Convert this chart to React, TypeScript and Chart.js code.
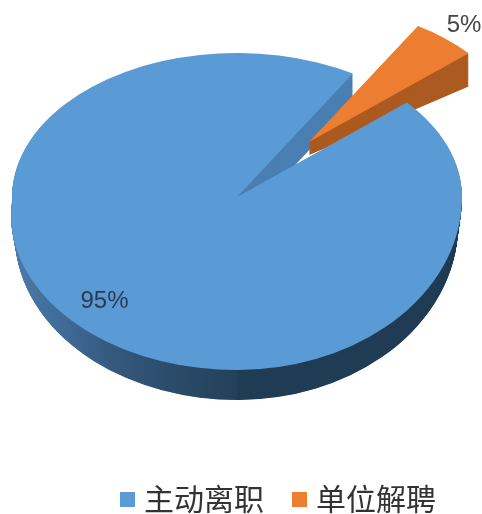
import React, { useEffect, useRef } from "react";
import { Chart, registerables } from "chart.js";

Chart.register(...registerables);

const categories = ["主动离职", "单位解聘"];
const seriesValues = [95, 5];
const sliceColors = ["#5B9BD5", "#ED7D31"];
const valueLabels = ["95%", "5%"];
const labelColors = ["#2C3A4E", "#444444"];

const W = 482;
const H = 514;
const CX = 237;
const CY = 197;
const RX = 225;
const K_UP = 144 / 225;
const EXPLODE = 112;
const ORANGE_RATIO = 0.94;
const labelPos = [
  [104.5, 301],
  [464, 25],
];
const LEGEND_DX = 40;
const LEGEND_DY = 10;
// lower-left and lower-right outline of the top face and of the bottom face: cy, rx, ry
const LEFT_TOP = [215, 226, 155];
const LEFT_BOTTOM = [235, 222, 165];
const RIGHT_TOP = [197, 225, 173];
const RIGHT_BOTTOM = [225, 221, 175];

function makeSwatch(color: string) {
  const c = document.createElement("canvas");
  c.width = 15;
  c.height = 15;
  const x = c.getContext("2d")!;
  x.fillStyle = color;
  x.fillRect(0, 0, 15, 15);
  return c;
}

const pie3d = {
  id: "pie3d",
  afterLayout(chart: any) {
    const l = chart.legend;
    l.left += LEGEND_DX;
    l.right += LEGEND_DX;
    l.top += LEGEND_DY;
    l.bottom += LEGEND_DY;
  },
  beforeDatasetsDraw(chart: any) {
    const ctx: CanvasRenderingContext2D = chart.ctx;
    const [blue, orange] = chart.getDatasetMeta(0).data as any[];
    const R = blue.outerRadius;
    const proto = Object.getPrototypeOf(blue);

    const paint = (arc: any, fill: any) => {
      const tmp = Object.create(arc);
      tmp.options = { ...arc.options, backgroundColor: fill, borderWidth: 0 };
      proto.draw.call(tmp, ctx);
    };
    const piece = (
      fill: any,
      clip: number[],
      cy: number,
      rx: number,
      ry: number,
    ) => {
      ctx.save();
      ctx.beginPath();
      ctx.rect(clip[0], clip[1], clip[2] - clip[0], clip[3] - clip[1]);
      ctx.clip();
      ctx.translate(CX, cy);
      ctx.scale(rx / R, ry / R);
      ctx.translate(-blue.x, -blue.y);
      paint(blue, fill);
      ctx.restore();
    };
    const lerp = (a: number[], b: number[], t: number) =>
      a.map((v, i) => v + (b[i] - v) * t);

    const s = RX / R;
    const toModel = (x: number) => blue.x + (x - CX) / s;
    const side = ctx.createLinearGradient(toModel(11), 0, toModel(250), 0);
    side.addColorStop(0, "#4C7CAA");
    side.addColorStop(0.2, "#3F6C98");
    side.addColorStop(0.42, "#35597E");
    side.addColorStop(0.7, "#2A4A68");
    side.addColorStop(1, "#233F58");

    // outer side of the large slice
    const N = 60;
    const leftClip = [0, CY, CX, H];
    const rightClip = [CX, CY, W, H];
    for (let i = N; i >= 1; i--) {
      const t = i / N;
      const l = lerp(LEFT_TOP, LEFT_BOTTOM, t);
      const r = lerp(RIGHT_TOP, RIGHT_BOTTOM, t);
      piece(side, leftClip, l[0], l[1], l[2]);
      piece("#223D56", rightClip, r[0], r[1], r[2]);
    }
    // wall seen through the gap
    for (let d = 30; d >= 1; d--) {
      piece("#4A7FB3", [0, 0, W, CY], CY + d, RX, RX * K_UP);
    }

    // exploded slice
    const mid = (orange.startAngle + orange.endAngle) / 2;
    const ax = CX + Math.cos(mid) * EXPLODE;
    const ay = CY + Math.sin(mid) * EXPLODE * K_UP;
    const slope = 20 / 157;
    const base = 13;
    const drawOrange = (fill: string, t: number) => {
      ctx.save();
      ctx.transform(1, t * slope, 0, 1, 0, t * (base - ax * slope));
      ctx.translate(ax, ay);
      ctx.scale(s * ORANGE_RATIO, s * K_UP * ORANGE_RATIO);
      ctx.translate(-orange.x, -orange.y);
      paint(orange, fill);
      ctx.restore();
    };
    for (let i = 40; i >= 1; i--) drawOrange("#AC5B21", i / 40);
    drawOrange(sliceColors[1], 0);

    // top of the large slice
    piece(sliceColors[0], [0, 0, W, CY + 1], CY, RX, RX * K_UP);
    piece(sliceColors[0], leftClip, LEFT_TOP[0], LEFT_TOP[1], LEFT_TOP[2]);
    piece(sliceColors[0], rightClip, RIGHT_TOP[0], RIGHT_TOP[1], RIGHT_TOP[2]);
    return false;
  },
  afterDraw(chart: any) {
    const ctx: CanvasRenderingContext2D = chart.ctx;
    ctx.save();
    ctx.font = '24px "Liberation Sans"';
    ctx.textAlign = "center";
    ctx.textBaseline = "middle";
    valueLabels.forEach((t, i) => {
      ctx.fillStyle = labelColors[i];
      ctx.fillText(t, labelPos[i][0], labelPos[i][1]);
    });
    ctx.restore();
  },
};

export default function App() {
  const ref = useRef<HTMLCanvasElement>(null);
  useEffect(() => {
    document.body.style.margin = "0";
    document.body.style.background = "#fff";
    const chart = new Chart(ref.current!, {
      type: "pie",
      data: {
        labels: categories,
        datasets: [
          {
            data: seriesValues,
            backgroundColor: sliceColors,
            borderWidth: 0,
          },
        ],
      },
      options: {
        responsive: false,
        animation: false,
        rotation: 49,
        layout: { padding: 0 },
        plugins: {
          tooltip: { enabled: false },
          legend: {
            position: "bottom",
            labels: {
              usePointStyle: true,
              boxWidth: 3,
              boxHeight: 3,
              padding: 34,
              color: "#333333",
              font: { family: '"Noto Sans CJK SC"', size: 30 },
              generateLabels(c: any) {
                const base = (Chart as any).overrides.doughnut.plugins.legend.labels.generateLabels(c);
                return base.map((it: any, i: number) => ({
                  ...it,
                  pointStyle: makeSwatch(sliceColors[i]),
                }));
              },
            },
          },
        },
      },
      plugins: [pie3d],
    } as any);
    return () => chart.destroy();
  }, []);
  return (
    <div style={{ width: W, height: H }}>
      <canvas ref={ref} width={W} height={H} style={{ display: "block" }} />
    </div>
  );
}
